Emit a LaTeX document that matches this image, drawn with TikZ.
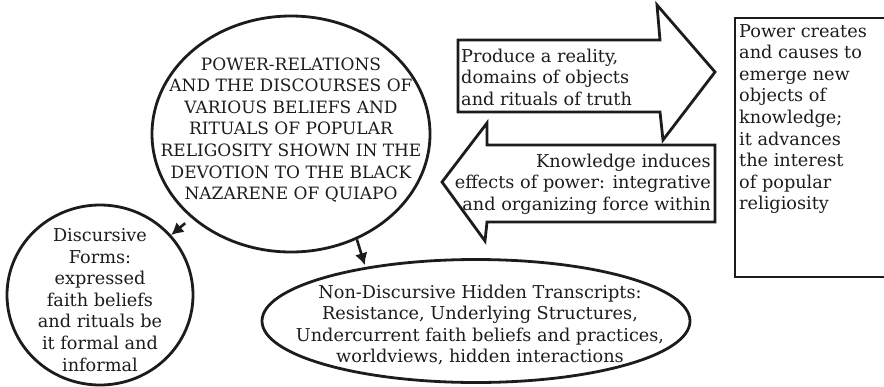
\documentclass[tikz,border=0pt]{standalone}
\usepackage{fontspec}
\setmainfont{DejaVu Serif}
\usetikzlibrary{arrows.meta,shapes.geometric}
\definecolor{InkBlack}{RGB}{30,27,28}
\tikzset{
  bubble/.style={ellipse,draw=InkBlack,line width=2.8pt,inner sep=0pt},
  bodytext/.style={font=\fontsize{17.7}{21.6}\selectfont,text=InkBlack,inner sep=0pt},
  capstext/.style={bodytext,font=\fontsize{17}{21.6}\selectfont},
  blockarrow/.style={draw=InkBlack,line width=2.8pt,line join=miter},
  arrow/.style={-{Latex[length=12pt,width=13pt]},line width=2.6pt,InkBlack}
}
\begin{document}
\begin{tikzpicture}[x=1pt,y=-1pt]
  \useasboundingbox (0,0) rectangle (884,386);
  % ellipses
  \node[bubble,minimum width=278pt,minimum height=236pt] (main) at (291,134) {};
  \node[bubble,minimum width=186pt,minimum height=180pt] (disc) at (100,295) {};
  \node[bubble,minimum width=428pt,minimum height=123pt] (nondisc) at (476,321) {};
  \node[capstext,align=center] (maintext) at (291,130)
    {POWER-RELATIONS\\AND THE DISCOURSES OF\\VARIOUS BELIEFS AND\\RITUALS OF POPULAR\\
     RELIGOSITY SHOWN IN THE\\DEVOTION TO THE BLACK\\NAZARENE OF QUIAPO};
  \node[bodytext,align=center] (disctext) at (100,300)
    {Discursive\\Forms:\\expressed\\faith beliefs\\and rituals be\\it formal and\\informal};
  \node[bodytext,align=center] (nondisctext) at (480,325)
    {Non-Discursive Hidden Transcripts:\\Resistance, Underlying Structures,\\
     Undercurrent faith beliefs and practices,\\worldviews, hidden interactions};
  % block arrows
  \draw[blockarrow] (458,40) -- (660,40) -- (657,5) -- (715,72) -- (663,140)
    -- (660,112) -- (458,112) -- cycle;
  \node[bodytext,align=left,anchor=west] (producetext) at (461,77)
    {Produce a reality,\\domains of objects\\and rituals of truth};
  \draw[blockarrow] (715,145) -- (487,145) -- (487,123) -- (442,182) -- (485,241)
    -- (487,222) -- (715,222) -- cycle;
  \node[bodytext,align=right,anchor=east] (inducetext) at (711,184)
    {Knowledge induces\\effects of power: integrative\\and organizing force within};
  % box on the right
  \draw[blockarrow] (892,18) -- (735,18) -- (735,277) -- (892,277);
  \node[bodytext,align=left,anchor=west] (powertext) at (739,119)
    {Power creates\\and causes to\\emerge new\\objects of\\knowledge;\\it advances\\
     the interest\\of popular\\religiosity};
  % connectors
  \draw[arrow,shorten <=8pt] (main) -- (disc);
  \draw[arrow,shorten >=2pt] (main.302) -- (nondisc.154);
\end{tikzpicture}
\end{document}
